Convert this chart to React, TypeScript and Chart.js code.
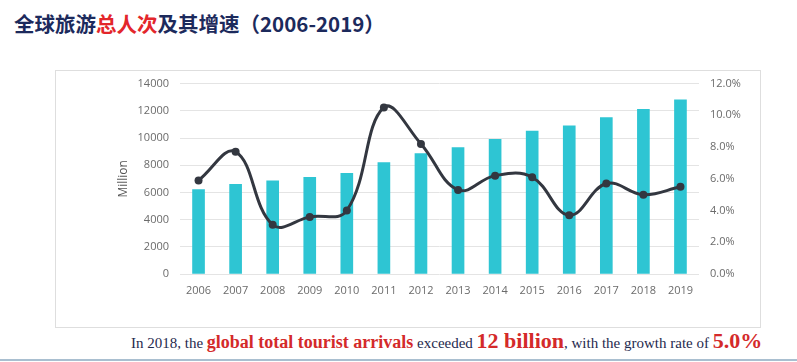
import React, { useEffect, useRef } from "react";
import { Chart, registerables } from "chart.js";

Chart.register(...registerables);

const years = ["2006","2007","2008","2009","2010","2011","2012","2013","2014","2015","2016","2017","2018","2019"];
const arrivals = [6200, 6600, 6850, 7100, 7400, 8200, 8850, 9300, 9900, 10500, 10900, 11500, 12100, 12800];
const growth = [5.9, 7.7, 3.1, 3.6, 4.0, 10.5, 8.2, 5.3, 6.2, 6.1, 3.7, 5.7, 5.0, 5.5];

const TICK_FONT = { family: "'Open Sans', 'Noto Sans', sans-serif", size: 11 };
const TICK_COLOR = "#6b6b6b";

export default function App() {
  const ref = useRef<HTMLCanvasElement | null>(null);

  useEffect(() => {
    document.body.style.margin = "0";
    const ctx = ref.current!;
    const chart = new Chart(ctx, {
      type: "bar",
      data: {
        labels: years,
        datasets: [
          {
            type: "line",
            label: "growth",
            data: growth,
            yAxisID: "y1",
            borderColor: "#333740",
            backgroundColor: "#333740",
            borderWidth: 3,
            pointRadius: 4,
            pointBackgroundColor: "#333740",
            pointBorderWidth: 0,
            tension: 0.4,
            order: 0,
          },
          {
            type: "bar",
            label: "arrivals",
            data: arrivals,
            yAxisID: "y",
            backgroundColor: "#2ec5d3",
            barThickness: 12,
            order: 1,
          },
        ],
      },
      options: {
        animation: false,
        responsive: false,
        maintainAspectRatio: false,
        layout: { padding: { top: 5, right: 0, left: 0, bottom: 0 } },
        plugins: { legend: { display: false }, tooltip: { enabled: false } },
        scales: {
          x: {
            grid: { display: false, drawTicks: false },
            border: { display: false },
            ticks: { font: TICK_FONT, color: TICK_COLOR, padding: 10, maxRotation: 0 },
            afterFit: (s: any) => { s.height = 28; },
          },
          y: {
            position: "left",
            min: 0,
            max: 14000,
            grid: { color: "#e4e4e4", lineWidth: 1, drawTicks: false },
            border: { display: false },
            ticks: {
              stepSize: 2000,
              font: TICK_FONT,
              color: TICK_COLOR,
              padding: 11,
              callback: (v: any) => String(v),
            },
            title: {
              display: true,
              text: "Million",
              font: { family: "'Open Sans', 'Noto Sans', sans-serif", size: 12 },
              color: "#555",
              padding: { top: 16, bottom: 0 },
            },
            afterFit: (s: any) => { s.width = 80; },
          },
          y1: {
            position: "right",
            min: 0,
            max: 12,
            grid: { drawOnChartArea: false, drawTicks: false },
            border: { display: false },
            ticks: {
              stepSize: 2,
              font: TICK_FONT,
              color: TICK_COLOR,
              padding: 11,
              callback: (v: any) => Number(v).toFixed(1) + "%",
            },
            afterFit: (s: any) => { s.width = 61; },
          },
        },
      },
    });
    return () => chart.destroy();
  }, []);

  const small: React.CSSProperties = { fontSize: 15, color: "#1f2a4e" };
  const redMid: React.CSSProperties = { fontSize: 18, color: "#d42a2a", fontWeight: "bold" };
  const redBig: React.CSSProperties = { fontSize: 22, color: "#d42a2a", fontWeight: "bold" };

  return (
    <div style={{ position: "absolute", left: 0, top: 0, width: 797, height: 362, background: "#fff", overflow: "hidden" }}>
      <div
        style={{
          position: "absolute",
          left: 14,
          top: 9,
          fontFamily: "'Noto Sans CJK SC', sans-serif",
          fontWeight: "bold",
          fontSize: 20.5,
          color: "#1c2a5c",
          whiteSpace: "nowrap",
          lineHeight: "28px",
        }}
      >
        全球旅游<span style={{ color: "#e3262b" }}>总人次</span>及其增速（2006-2019）
      </div>
      <div
        style={{
          position: "absolute",
          left: 55,
          top: 70,
          width: 706,
          height: 258,
          border: "1px solid #dedede",
          boxSizing: "border-box",
        }}
      />
      <canvas
        ref={ref}
        width={660}
        height={236}
        style={{ position: "absolute", left: 100, top: 66, width: 660, height: 236 }}
      />
      <div
        style={{
          position: "absolute",
          left: 131,
          top: 326,
          fontFamily: "'Liberation Serif', 'Times New Roman', serif",
          whiteSpace: "nowrap",
          lineHeight: "30px",
        }}
      >
        <span style={small}>In 2018, the </span>
        <span style={redMid}>global total tourist arrivals</span>
        <span style={small}> exceeded </span>
        <span style={redBig}>12 billion</span>
        <span style={small}>, with the growth rate of </span>
        <span style={redBig}>5.0%</span>
      </div>
      <div style={{ position: "absolute", left: 0, top: 359, width: 797, height: 2, background: "#a9bfd0" }} />
    </div>
  );
}
